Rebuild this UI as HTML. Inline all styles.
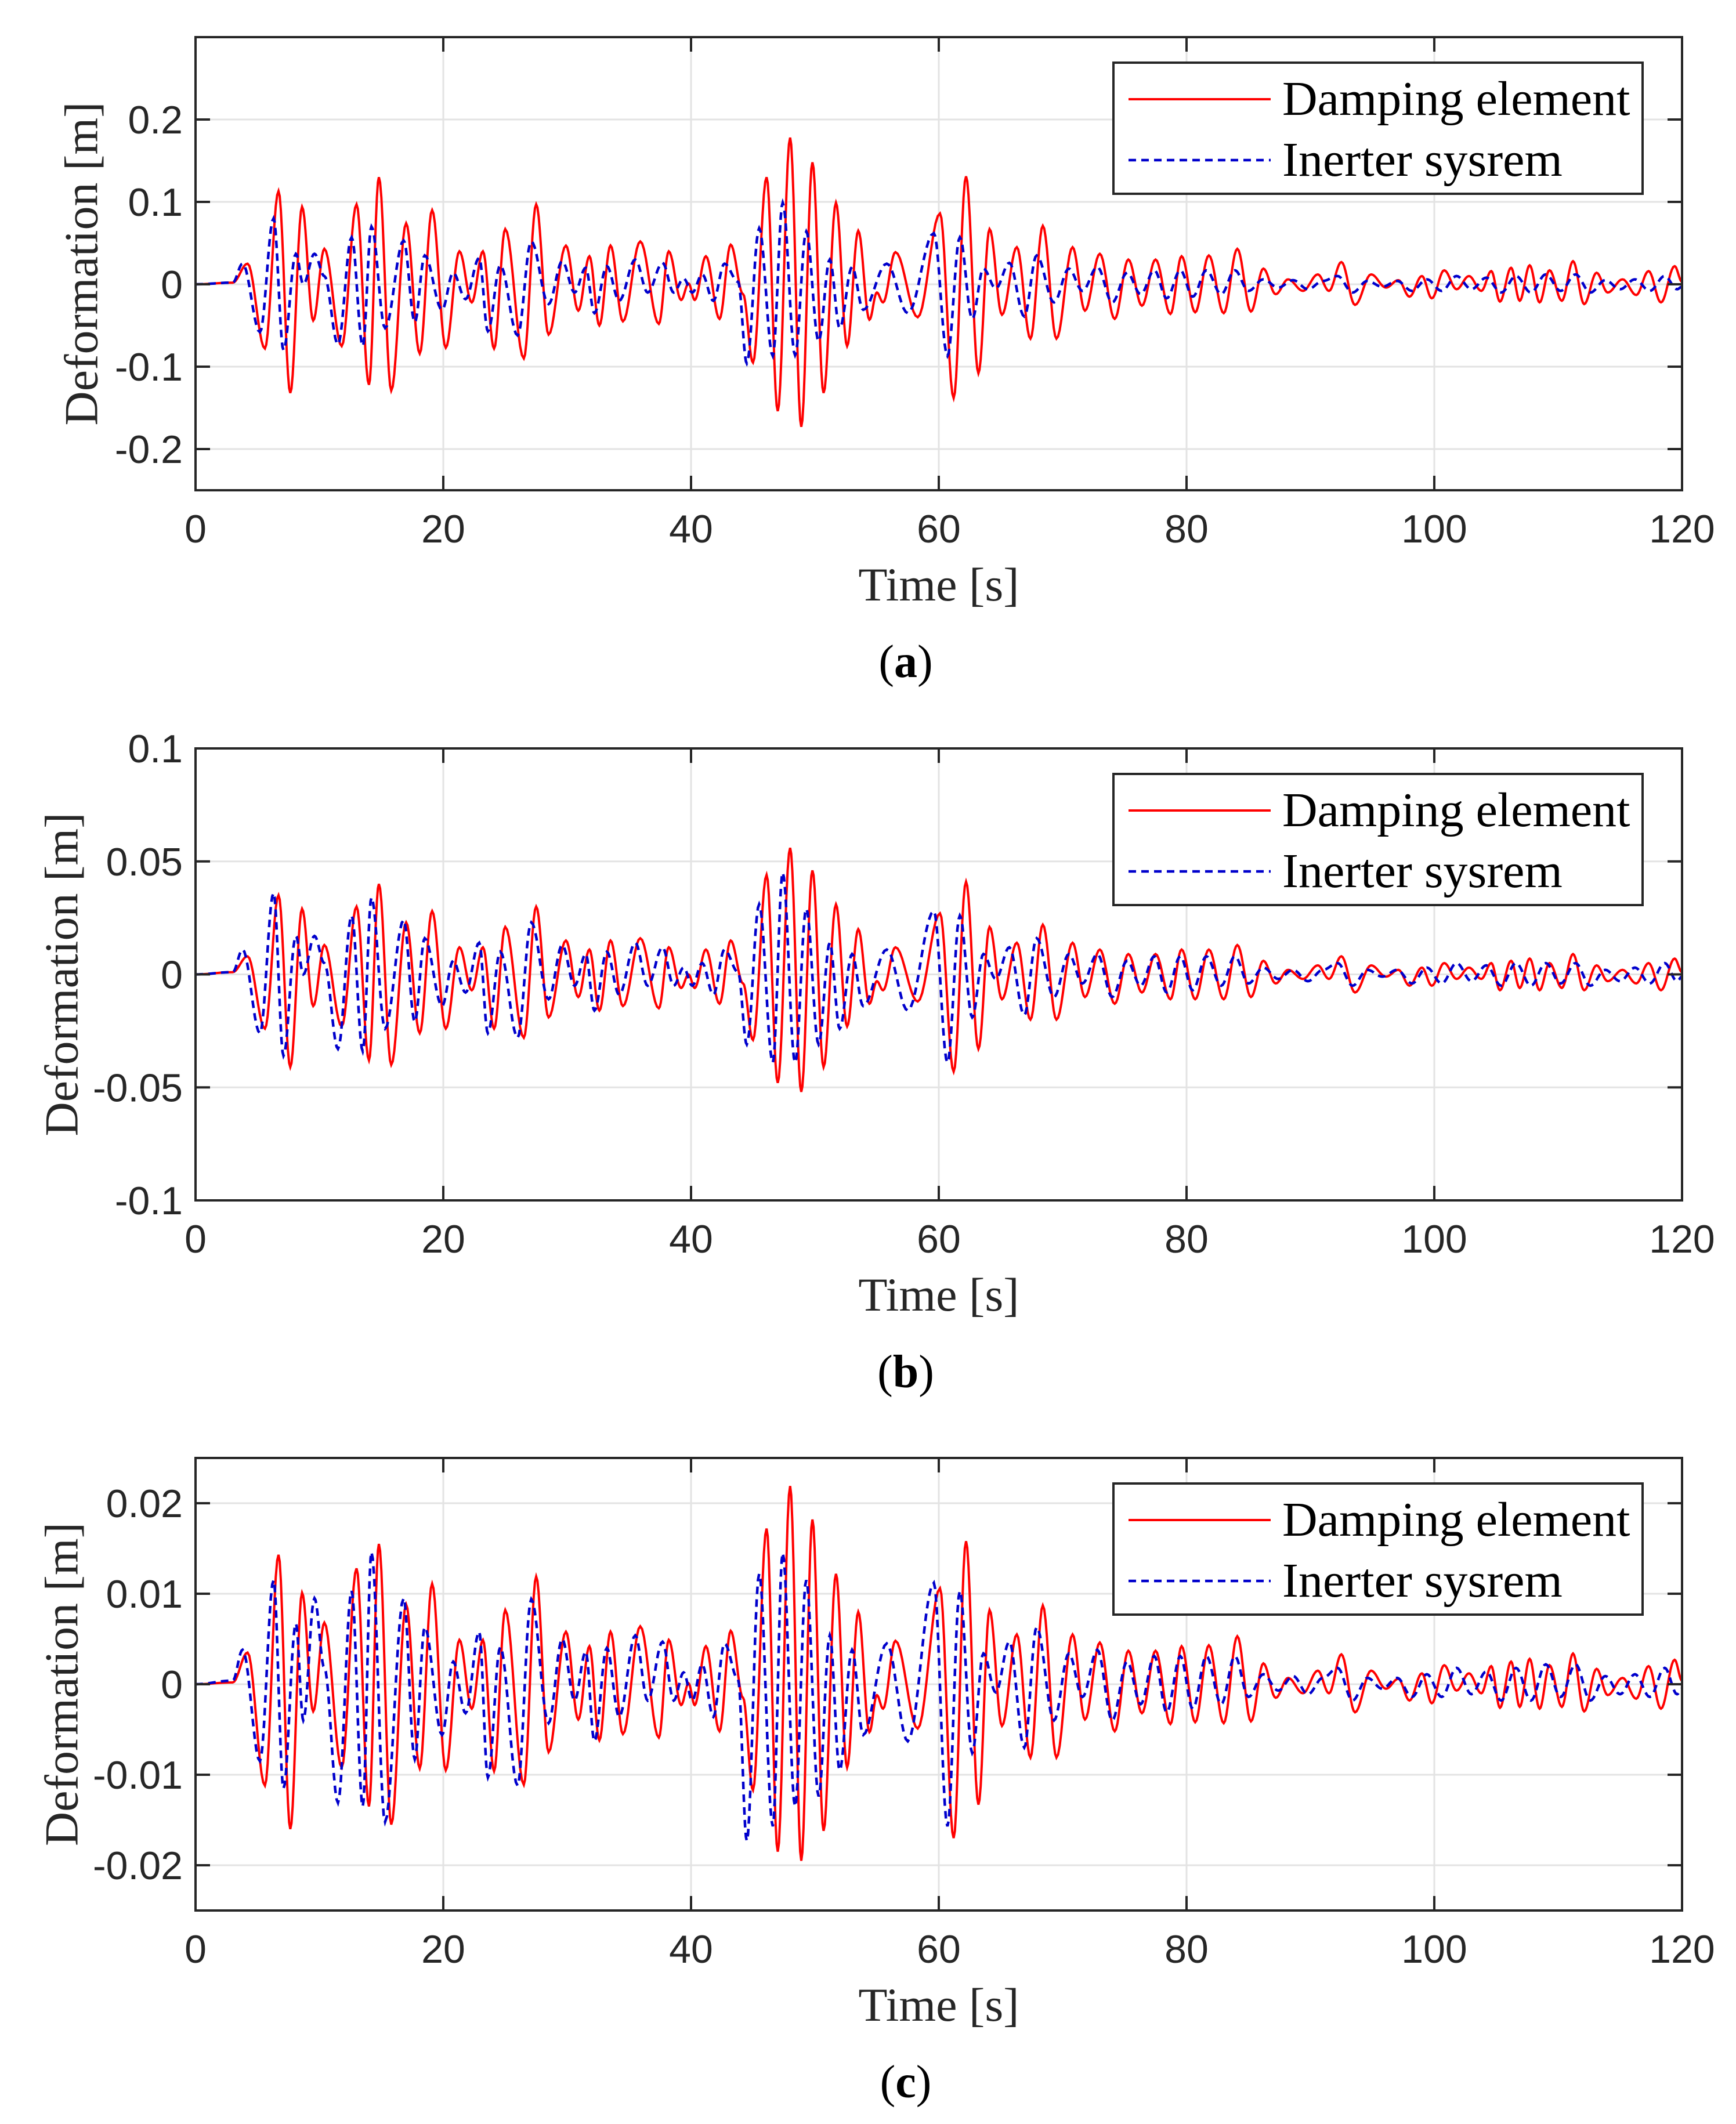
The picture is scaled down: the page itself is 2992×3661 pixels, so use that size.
<!DOCTYPE html>
<html><head><meta charset="utf-8"><style>
html,body{margin:0;padding:0;background:#fff;}
svg{display:block;}
.tick{font-family:"Liberation Sans",Arial,sans-serif;font-size:68px;fill:#262626;}
.ttl{font-family:"Liberation Serif","Times New Roman",serif;font-size:82px;fill:#262626;}
.leg{font-family:"Liberation Serif","Times New Roman",serif;font-size:84px;fill:#000;}
.cap{font-family:"Liberation Serif","Times New Roman",serif;font-size:80px;fill:#000;}
</style></head><body>
<svg id="fig" xmlns="http://www.w3.org/2000/svg" width="2992" height="3661" viewBox="0 0 2992 3661"></svg>
<script>
// ---- data: time of extrema (s) ----
const timeRed = [0,3,4.2,5.6,6.7,7.65,8.6,9.5,10.4,11.8,13,14,14.8,15.8,17,18.1,19.1,20.2,21.3,22.3,23.2,24.1,25,26.5,27.5,28.5,29.9,30.9,31.8,32.6,33.5,34.5,35.9,37.4,38.2,39.2,39.8,40.3,41.2,42.3,43.2,44.2,45,46.1,47,48,48.9,49.8,50.7,51.7,52.6,53.5,54.4,55.0,55.5,56.5,58.3,60.1,61.2,62.2,63.2,64.1,65.1,66.3,67.4,68.4,69.5,70.8,71.8,73,74.2,75.3,76.4,77.5,78.7,79.6,80.7,81.8,83,84.1,85.2,86.2,87.2,88.2,89.4,90.6,91.5,92.5,93.6,94.9,96.1,97.1,98,99,99.8,100.8,101.8,102.8,103.8,104.6,105.3,106.2,106.9,107.7,108.5,109.3,110.3,111.2,112.1,113.1,114,115.2,116.3,117.3,118.3,119.4,120];
const timeBlue = [0,3,3.8,5.2,6.3,7.1,8.1,8.7,9.6,10.4,11.5,12.6,13.5,14.2,15.3,16.8,17.7,18.5,19.9,20.8,21.8,22.9,23.6,24.6,26,27.1,28.5,29.6,30.6,31.5,32.2,33.2,34.2,35.5,36.5,37.7,38.6,39.4,40.1,40.9,41.8,42.7,43.8,44.5,45.5,46.6,47.4,48.4,49.3,50.3,51.2,52,53,53.9,55.8,57.5,59.6,60.7,61.7,62.7,63.6,64.6,65.7,66.9,67.9,69.3,70.5,71.6,72.8,74,75.2,76.3,77.4,78.4,79.5,80.5,81.6,82.8,83.9,85,86.2,87.4,88.6,89.8,91,92.2,93.4,94.6,95.8,97,98.2,99.4,100.6,101.8,103,104.2,105.4,106.6,107.8,109,110.2,111.4,112.6,113.8,115,116.2,117.4,118.6,119.6,120];

// ---- panel (a) ----
const redA = [0,0.002,0.025,-0.078,0.113,-0.132,0.094,-0.044,0.043,-0.075,
0.097,-0.122,0.13,-0.129,0.074,-0.084,0.09,-0.077,0.04,-0.022,
0.04,-0.078,0.067,-0.09,0.097,-0.061,0.047,-0.032,0.034,-0.05,
0.047,-0.045,0.052,-0.048,0.04,-0.019,0.001,-0.019,0.034,-0.042,
0.048,-0.012,-0.095,0.13,-0.154,0.178,-0.173,0.148,-0.132,0.099,
-0.075,0.065,-0.043,-0.01,-0.022,0.039,-0.04,0.086,-0.138,0.131,
-0.108,0.067,-0.037,0.045,-0.066,0.071,-0.066,0.045,-0.032,0.037,
-0.042,0.03,-0.026,0.03,-0.036,0.034,-0.034,0.035,-0.035,0.043,
-0.033,0.019,-0.012,0.006,-0.008,0.012,-0.008,0.027,-0.025,0.012,
-0.004,0.005,-0.015,0.01,-0.017,0.017,-0.006,0.01,-0.008,0.016,
-0.021,0.02,-0.02,0.023,-0.022,0.017,-0.02,0.028,-0.024,0.014,
-0.01,0.006,-0.013,0.016,-0.022,0.022,0.003];
const blueA = [0,0.002,0.025,-0.058,0.08,-0.08,0.037,0.0,0.037,0.01,
-0.073,0.057,-0.075,0.07,-0.053,0.053,-0.046,0.035,-0.031,0.014,
-0.018,0.032,-0.057,0.023,-0.062,0.052,-0.024,0.028,-0.01,0.02,
-0.035,0.022,-0.02,0.03,-0.01,0.026,-0.01,0.007,-0.01,0.012,
-0.02,0.025,0.003,-0.096,0.068,-0.087,0.099,-0.086,0.064,-0.069,
0.03,-0.053,0.021,-0.031,0.025,-0.035,0.062,-0.087,0.057,-0.042,
0.019,-0.005,0.026,-0.039,0.035,-0.022,0.019,-0.008,0.021,-0.022,
0.014,-0.012,0.017,-0.017,0.017,-0.015,0.017,-0.012,0.017,-0.008,
0.006,-0.004,0.005,-0.006,0.004,0.01,-0.01,0.004,-0.003,0.004,
-0.008,0.006,-0.008,0.01,-0.006,0.008,-0.01,0.01,-0.01,0.012,
-0.008,0.012,-0.01,0.005,-0.006,0.006,-0.008,0.01,-0.006,-0.003];
const yTicksA = [-0.2,-0.1,0,0.1,0.2];
const yTickLabelsA = ["-0.2","-0.1","0","0.1","0.2"];

// ---- panel (b) ----
const redB = [0,0.001,0.008,-0.024,0.035,-0.041,0.029,-0.014,0.013,-0.023,
0.03,-0.038,0.04,-0.04,0.023,-0.026,0.028,-0.024,0.012,-0.007,
0.012,-0.024,0.021,-0.028,0.03,-0.019,0.015,-0.01,0.011,-0.016,
0.015,-0.014,0.016,-0.015,0.012,-0.006,0.0,-0.006,0.011,-0.013,
0.015,-0.004,-0.029,0.044,-0.048,0.056,-0.052,0.046,-0.041,0.031,
-0.023,0.02,-0.013,-0.003,-0.007,0.012,-0.012,0.027,-0.043,0.041,
-0.033,0.021,-0.011,0.014,-0.02,0.022,-0.02,0.014,-0.01,0.011,
-0.013,0.009,-0.008,0.009,-0.011,0.011,-0.011,0.011,-0.011,0.013,
-0.01,0.006,-0.004,0.002,-0.002,0.004,-0.002,0.008,-0.008,0.004,
-0.001,0.002,-0.005,0.003,-0.005,0.005,-0.002,0.003,-0.002,0.005,
-0.007,0.006,-0.006,0.007,-0.007,0.005,-0.006,0.009,-0.007,0.004,
-0.003,0.002,-0.004,0.005,-0.007,0.007,0.001];
const blueB = [0,0.001,0.011,-0.026,0.036,-0.036,0.017,0.0,0.017,0.005,
-0.033,0.026,-0.034,0.034,-0.024,0.024,-0.021,0.016,-0.014,0.006,
-0.008,0.014,-0.026,0.01,-0.028,0.023,-0.011,0.013,-0.005,0.009,
-0.016,0.01,-0.009,0.014,-0.005,0.012,-0.005,0.003,-0.005,0.005,
-0.009,0.011,0.001,-0.031,0.031,-0.039,0.045,-0.039,0.029,-0.031,
0.014,-0.024,0.009,-0.014,0.011,-0.016,0.028,-0.039,0.026,-0.019,
0.009,-0.002,0.012,-0.018,0.016,-0.01,0.009,-0.004,0.009,-0.01,
0.006,-0.005,0.008,-0.008,0.008,-0.007,0.008,-0.005,0.008,-0.004,
0.003,-0.002,0.002,-0.003,0.002,0.005,-0.005,0.002,-0.001,0.002,
-0.004,0.003,-0.004,0.005,-0.003,0.004,-0.005,0.005,-0.005,0.005,
-0.004,0.005,-0.005,0.002,-0.003,0.003,-0.004,0.005,-0.003,-0.001];
const yTicksB = [-0.1,-0.05,0,0.05,0.1];
const yTickLabelsB = ["-0.1","-0.05","0","0.05","0.1"];

// ---- panel (c) ----
const redC = [0,0.0002,0.0035,-0.0112,0.0143,-0.016,0.0101,-0.0030,0.0068,-0.0092,
0.0128,-0.0135,0.0155,-0.0155,0.0088,-0.0093,0.0111,-0.0095,0.0049,-0.0027,
0.0049,-0.0096,0.0082,-0.0111,0.0119,-0.0075,0.0058,-0.0039,0.0042,-0.0062,
0.0058,-0.0055,0.0064,-0.0059,0.0049,-0.0023,0.0001,-0.0023,0.0042,-0.0052,
0.0059,-0.0015,-0.0117,0.0172,-0.0185,0.0219,-0.0195,0.0182,-0.0162,0.0122,
-0.0092,0.008,-0.0053,-0.0012,-0.0027,0.0048,-0.0049,0.0106,-0.017,0.0158,
-0.0133,0.0082,-0.0046,0.0055,-0.0081,0.0087,-0.0081,0.0055,-0.0039,0.0046,
-0.0052,0.0037,-0.0032,0.0037,-0.0044,0.0042,-0.0042,0.0043,-0.0043,0.0053,
-0.0041,0.0023,-0.0015,0.0007,-0.001,0.0015,-0.001,0.0033,-0.0031,0.0015,
-0.0005,0.0006,-0.0018,0.0012,-0.0021,0.0021,-0.0007,0.0012,-0.001,0.002,
-0.0026,0.0025,-0.0025,0.0028,-0.0027,0.0021,-0.0025,0.0034,-0.003,0.0017,
-0.0012,0.0007,-0.0016,0.002,-0.0027,0.0027,0.0004];
const blueC = [0,0.0004,0.0038,-0.0085,0.0115,-0.0115,0.0067,-0.004,0.0095,0.0018,
-0.0131,0.0103,-0.0135,0.0146,-0.0152,0.0095,-0.0083,0.0063,-0.0056,0.0025,
-0.0032,0.0058,-0.0103,0.0041,-0.0112,0.0094,-0.0043,0.005,-0.0018,0.0036,
-0.0063,0.004,-0.0036,0.0054,-0.0018,0.0047,-0.0018,0.0013,-0.0018,0.0022,
-0.0036,0.0045,0.0005,-0.0173,0.0122,-0.0157,0.0145,-0.0135,0.0115,-0.0124,
0.0054,-0.0095,0.0038,-0.0056,0.0045,-0.0063,0.0112,-0.0157,0.0103,-0.0076,
0.0034,-0.0009,0.0047,-0.007,0.0063,-0.004,0.0034,-0.0014,0.0038,-0.004,
0.0025,-0.0022,0.0031,-0.0031,0.0031,-0.0027,0.0031,-0.0022,0.0031,-0.0014,
0.0011,-0.0007,0.0009,-0.0011,0.0007,0.0018,-0.0018,0.0007,-0.0005,0.0007,
-0.0014,0.0011,-0.0014,0.0018,-0.0011,0.0014,-0.0018,0.0018,-0.0018,0.0022,
-0.0014,0.0022,-0.0018,0.0009,-0.0011,0.0011,-0.0014,0.0018,-0.0011,-0.0005];
const yTicksC = [-0.02,-0.01,0,0.01,0.02];
const yTickLabelsC = ["-0.02","-0.01","0","0.01","0.02"];

const xTicks = [0,20,40,60,80,100,120];
const xTickLabels = ["0","20","40","60","80","100","120"];
const legendLabels = ["Damping element","Inerter sysrem"];

const NS = "http://www.w3.org/2000/svg";
const svg = document.getElementById('fig');
function mk(tag, attrs, parent){
  const e = document.createElementNS(NS, tag);
  for (const k in attrs) e.setAttribute(k, attrs[k]);
  (parent||svg).appendChild(e);
  return e;
}

const L = 337, R = 2899;
const panels = [
  {id:'a', top:64, bot:845, ymin:-0.25, ymax:0.3, ticks:yTicksA, labels:yTickLabelsA, red:redA, blue:blueA, ytx:140},
  {id:'b', top:1290, bot:2069, ymin:-0.1, ymax:0.1, ticks:yTicksB, labels:yTickLabelsB, red:redB, blue:blueB, ytx:106},
  {id:'c', top:2513, bot:3293, ymin:-0.025, ymax:0.025, ticks:yTicksC, labels:yTickLabelsC, red:redC, blue:blueC, ytx:106}
];

function pathFrom(ts, vs, sx, sy){
  const n = Math.min(ts.length, vs.length);
  let d = 'M' + sx(ts[0]).toFixed(1) + ',' + sy(vs[0]).toFixed(1);
  for (let i=1;i<n;i++){
    const t0=ts[i-1], t1=ts[i], v0=vs[i-1], v1=vs[i];
    const steps = 10;
    for (let k=1;k<=steps;k++){
      const f=k/steps, w=(1-Math.cos(Math.PI*f))/2;
      d += 'L' + sx(t0+(t1-t0)*f).toFixed(1) + ',' + sy(v0+(v1-v0)*w).toFixed(1);
    }
  }
  return d;
}

panels.forEach(p=>{
  const g = mk('g', {});
  
  
  const sx = t => L + (t-0)/(120-0)*(R-L);
  const sy = v => p.bot - (v-p.ymin)/(p.ymax-p.ymin)*(p.bot-p.top);
  const clipId = 'clip'+p.id;
  const cp = mk('clipPath', {id:clipId}, g);
  mk('rect', {x:L, y:p.top, width:R-L, height:p.bot-p.top}, cp);
  xTicks.forEach(t=>{
    const gl = mk('line', {x1:sx(t), x2:sx(t), y1:p.top, y2:p.bot, stroke:'#e3e3e3', 'stroke-width':3}, g);
    
    
  });
  p.ticks.forEach(v=>{
    const gl = mk('line', {x1:L, x2:R, y1:sy(v), y2:sy(v), stroke:'#e3e3e3', 'stroke-width':3}, g);
    
    
  });
  const rp = mk('path', {d:pathFrom(timeRed, p.red, sx, sy), fill:'none', stroke:'#ff0000', 'stroke-width':4, 'clip-path':'url(#'+clipId+')'}, g);
  
  
  const bp = mk('path', {d:pathFrom(timeBlue, p.blue, sx, sy), fill:'none', stroke:'#0000cc', 'stroke-width':4.5, 'stroke-dasharray':'13 9', 'clip-path':'url(#'+clipId+')'}, g);
  
  
  const box = mk('rect', {x:L, y:p.top, width:R-L, height:p.bot-p.top, fill:'none', stroke:'#262626', 'stroke-width':4}, g);
  
  
  xTicks.forEach((t,i)=>{
    mk('line', {x1:sx(t), x2:sx(t), y1:p.bot, y2:p.bot-25, stroke:'#262626', 'stroke-width':4}, g);
    mk('line', {x1:sx(t), x2:sx(t), y1:p.top, y2:p.top+25, stroke:'#262626', 'stroke-width':4}, g);
    const tl = mk('text', {x:sx(t), y:p.bot+90, 'text-anchor':'middle', class:'tick'}, g);
    tl.textContent = xTickLabels[i];
    
    
  });
  p.ticks.forEach((v,i)=>{
    mk('line', {x1:L, x2:L+25, y1:sy(v), y2:sy(v), stroke:'#262626', 'stroke-width':4}, g);
    mk('line', {x1:R, x2:R-25, y1:sy(v), y2:sy(v), stroke:'#262626', 'stroke-width':4}, g);
    const tl = mk('text', {x:L-22, y:sy(v)+24, 'text-anchor':'end', class:'tick'}, g);
    tl.textContent = p.labels[i];
    
    
  });
  const xt = mk('text', {x:(L+R)/2, y:p.bot+190, 'text-anchor':'middle', class:'ttl'}, g);
  xt.textContent = 'Time [s]';
  
  
  const cy = (p.top+p.bot)/2;
  const yt = mk('text', {x:p.ytx, y:cy, 'text-anchor':'middle', 'dominant-baseline':'central', class:'ttl', transform:'rotate(-90 '+p.ytx+' '+cy+')'}, g);
  yt.textContent = 'Deformation [m]';
  
  
  const lg = mk('g', {}, g);
  
  
  const ly = p.top + 44;
  mk('rect', {x:1919, y:ly, width:912, height:226, fill:'#fff', stroke:'#262626', 'stroke-width':4}, lg);
  const l1 = mk('line', {x1:1945, x2:2190, y1:ly+63, y2:ly+63, stroke:'#ff0000', 'stroke-width':4}, lg);
  
  
  const t1 = mk('text', {x:2210, y:ly+90, class:'leg'}, lg);
  t1.textContent = legendLabels[0];
  
  
  const l2 = mk('line', {x1:1945, x2:2190, y1:ly+168, y2:ly+168, stroke:'#0000cc', 'stroke-width':4.5, 'stroke-dasharray':'13 9'}, lg);
  
  
  const t2 = mk('text', {x:2210, y:ly+195, class:'leg'}, lg);
  t2.textContent = legendLabels[1];
  
  
  const cap = mk('text', {x:1561, y:p.bot+322, 'text-anchor':'middle', class:'cap'}, g);
  cap.innerHTML = '(<tspan font-weight="bold">' + p.id + '</tspan>)';
  
  
});
</script>
</body></html>
